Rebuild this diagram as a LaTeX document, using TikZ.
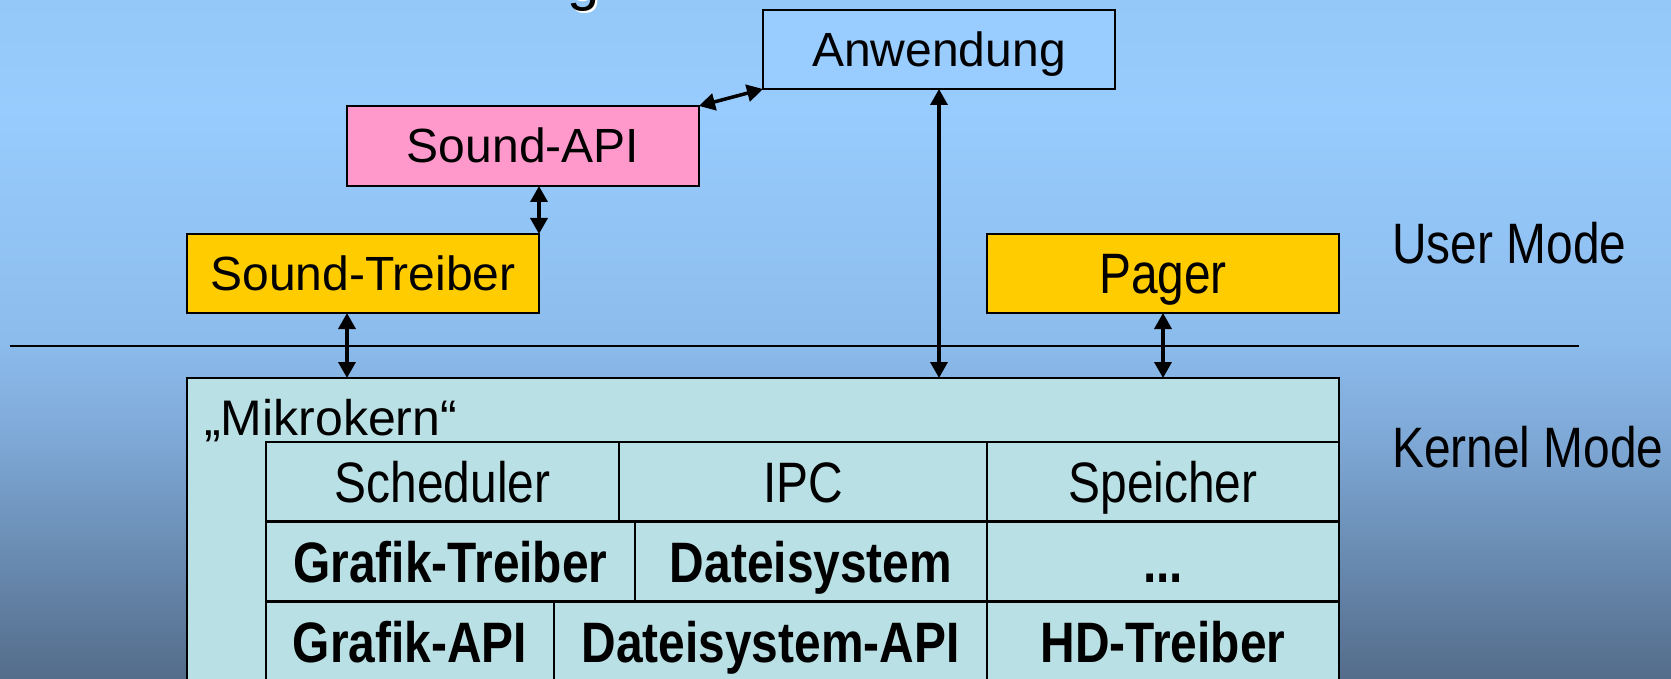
\documentclass[tikz,border=0pt]{standalone}
\usepackage{fontspec}
\setmainfont{Liberation Sans}
\newfontfamily\narrowfont[FakeStretch=0.84]{Liberation Sans}
\usetikzlibrary{arrows.meta,calc}
\definecolor{bgA}{RGB}{84,108,138}
\definecolor{bgB}{RGB}{104,138,176}
\definecolor{bgC}{RGB}{126,168,214}
\definecolor{bgD}{RGB}{140,188,236}
\definecolor{bgE}{RGB}{152,204,254}
\definecolor{bgF}{RGB}{148,200,248}
\definecolor{anwblue}{RGB}{153,204,255}
\definecolor{apipink}{RGB}{255,153,204}
\definecolor{drvyellow}{RGB}{255,204,0}
\definecolor{kerncyan}{RGB}{185,224,228}
% the path's box is mapped onto 25bp..75bp of the shading
\pgfdeclareverticalshading{bgshade}{100bp}{color(0bp)=(bgA); color(25bp)=(bgA); color(33.75bp)=(bgB); color(42.6bp)=(bgC); color(49.95bp)=(bgD); color(66.9bp)=(bgE); color(75bp)=(bgF); color(100bp)=(bgF)}
\begin{document}
\begin{tikzpicture}[x=1pt,y=-1pt,
  boxbase/.style={draw=black, line width=2.5pt, inner sep=0pt, outer sep=0pt, anchor=north west},
  ubox/.style={boxbase, minimum width=352pt, minimum height=79pt,
    font=\fontsize{48pt}{56pt}\selectfont, text height=34pt, text depth=0pt},
  nbox/.style={boxbase, minimum width=352pt, minimum height=79pt,
    font=\narrowfont\fontsize{57pt}{68pt}\selectfont, text height=41pt, text depth=0pt},
  tcell/.style={boxbase, fill=kerncyan,
    font=\narrowfont\fontsize{57pt}{68pt}\selectfont, text height=41pt, text depth=0pt},
  bcell/.style={tcell, font=\narrowfont\bfseries\fontsize{57pt}{68pt}\selectfont},
  modelabel/.style={anchor=base west, inner sep=0pt, font=\narrowfont\fontsize{57pt}{68pt}\selectfont},
  dbl/.style={line width=3.5pt, {Triangle[length=16pt,width=17pt]}-{Triangle[length=16pt,width=17pt]}},
  sep/.style={line width=2.5pt}
]
\useasboundingbox (0,0) rectangle (1671,679);
\clip (0,0) rectangle (1671,679);
\shade[shading=bgshade] (0,0) rectangle (1671,679);

% title fragment
\node[anchor=base, inner sep=0pt, text=white, font=\fontsize{58pt}{60pt}\selectfont] (titlesh) at (586,1.5) {g};
\node[anchor=base, inner sep=0pt, font=\fontsize{58pt}{60pt}\selectfont] (title) at (584,0) {g};

% user mode boxes
\node[ubox, fill=anwblue] (anw) at (763,10) {Anwendung};
\node[ubox, fill=apipink, minimum height=80pt] (sapi) at (347,106) {Sound-API};
\node[ubox, fill=drvyellow] (st) at (187,234) {Sound-Treiber};
\node[nbox, fill=drvyellow] (pager) at (987,234) {Pager};

% separator
\coordinate (hl) at (10,346);
\coordinate (hr) at (1579,346);
\draw[sep] (hl) -- (hr);

% mode labels
\node[modelabel] (um) at (1392,263) {User Mode};
\node[modelabel] (km) at (1392,467) {Kernel Mode};

% microkernel
\node[boxbase, fill=kerncyan, minimum width=1152pt, minimum height=340pt] (mk) at (187,378) {};
\node[anchor=base west, inner sep=0pt, font=\fontsize{50pt}{58pt}\selectfont] (mklabel) at (204,435) {„Mikrokern“};

% table rows
\node[tcell, minimum width=353pt, minimum height=79.5pt] (sched) at (266,442) {Scheduler};
\node[tcell, minimum width=368pt, minimum height=79.5pt] (ipc) at (619,442) {IPC};
\node[tcell, minimum width=352pt, minimum height=79.5pt] (speich) at (987,442) {Speicher};

\node[bcell, minimum width=369pt, minimum height=80pt] (gtr) at (266,521.5) {Grafik-Treiber};
\node[bcell, minimum width=352pt, minimum height=80pt] (dsys) at (635,521.5) {Dateisystem};
\node[bcell, minimum width=352pt, minimum height=80pt] (dots) at (987,521.5) {...};

\node[bcell, minimum width=288pt, minimum height=80pt] (gapi) at (266,601.5) {Grafik-API};
\node[bcell, minimum width=433pt, minimum height=80pt] (dsapi) at (554,601.5) {Dateisystem-API};
\node[bcell, minimum width=352pt, minimum height=80pt] (hdtr) at (987,601.5) {HD-Treiber};

% connectors
\draw[dbl] (sapi.north east) -- (anw.south west);
\draw[dbl] (st.north east |- sapi.south) -- (st.north east);
\draw[dbl] (sapi.west |- st.south) -- (sapi.west |- mk.north);
\draw[dbl] (anw.south) -- (anw.south |- mk.north);
\draw[dbl] (pager.south) -- (pager.south |- mk.north);
\end{tikzpicture}
\end{document}
